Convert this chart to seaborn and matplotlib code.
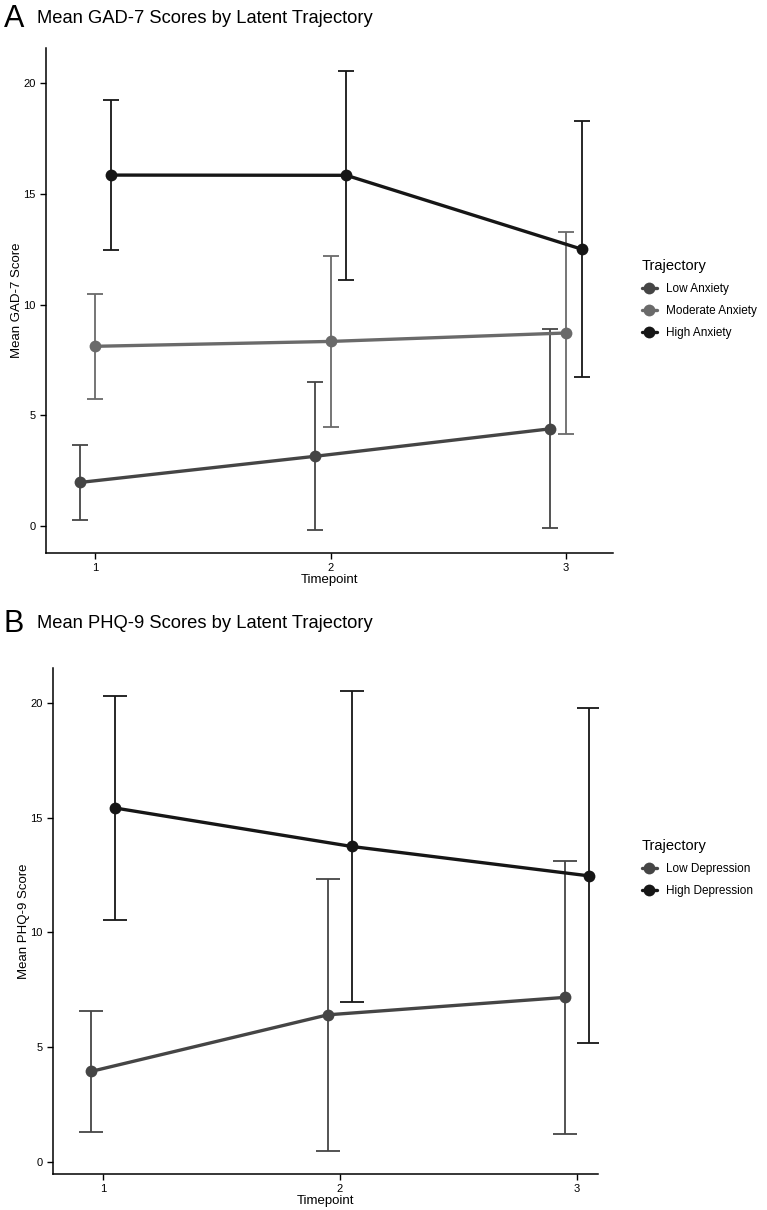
import numpy as np
import pandas as pd
import matplotlib
matplotlib.use("Agg")
import matplotlib.pyplot as plt
from matplotlib.lines import Line2D
import seaborn as sns

# Datos (media y desviacion estandar por trayectoria)
timepoints = [1, 2, 3]

gad_groups = ["Low Anxiety", "Moderate Anxiety", "High Anxiety"]
gad_low_mean = [1.98, 3.16, 4.40]
gad_low_sd = [1.70, 3.33, 4.49]
gad_mod_mean = [8.12, 8.34, 8.72]
gad_mod_sd = [2.36, 3.86, 4.56]
gad_high_mean = [15.84, 15.83, 12.50]
gad_high_sd = [3.39, 4.71, 5.78]

phq_groups = ["Low Depression", "High Depression"]
phq_low_mean = [3.94, 6.41, 7.17]
phq_low_sd = [2.65, 5.93, 5.96]
phq_high_mean = [15.43, 13.75, 12.47]
phq_high_sd = [4.87, 6.77, 7.31]

gad_colors = ["#454545", "#6a6a6a", "#161616"]
phq_colors = ["#454545", "#161616"]


def armar_df(grupos, medias, sds):
    filas = []
    n = len(grupos)
    for i, (g, m, s) in enumerate(zip(grupos, medias, sds)):
        offset = (i - (n - 1) / 2) * 0.2 / n  # position dodge width 0.2
        for t, mv, sv in zip(timepoints, m, s):
            filas.append({"timepoint": t, "x": t + offset, "trajectory": g,
                          "mean": mv, "sd": sv})
    return pd.DataFrame(filas)


def dibujar_panel(ax, df, grupos, colores, ylabel, capsize):
    pal = dict(zip(grupos, colores))
    for g in grupos:
        sub = df[df["trajectory"] == g]
        ax.errorbar(sub["x"], sub["mean"], yerr=sub["sd"], fmt="none",
                    ecolor=pal[g], elinewidth=1.3, capsize=capsize, capthick=1.3,
                    zorder=2)
    sns.lineplot(data=df, x="x", y="mean", hue="trajectory", hue_order=grupos,
                 palette=pal, linewidth=2.4, marker="o", markersize=8.5,
                 markeredgewidth=0, legend=False, ax=ax, zorder=3)
    ax.set_xticks(timepoints)
    ax.set_xticklabels([str(t) for t in timepoints])
    ax.set_yticks([0, 5, 10, 15, 20])
    ax.set_xlabel("Timepoint", fontsize=9.5, labelpad=0.5, color="black")
    ax.set_ylabel(ylabel, fontsize=9.5, labelpad=0, color="black")
    ax.tick_params(axis="both", labelsize=8, length=4, width=1,
                   colors="black", labelcolor="black")
    for s in ["left", "bottom"]:
        ax.spines[s].set_linewidth(1.1)
        ax.spines[s].set_color("black")
    sns.despine(ax=ax)


def main():
    sns.set_theme(style="ticks")
    plt.rcParams["font.family"] = ["Liberation Sans", "DejaVu Sans"]
    plt.rcParams["text.color"] = "black"
    plt.rcParams["axes.labelcolor"] = "black"

    fig = plt.figure(figsize=(7.67, 12.10), dpi=100)

    df_gad = armar_df(gad_groups, [gad_low_mean, gad_mod_mean, gad_high_mean],
                      [gad_low_sd, gad_mod_sd, gad_high_sd])
    df_phq = armar_df(phq_groups, [phq_low_mean, phq_high_mean],
                      [phq_low_sd, phq_high_sd])

    # Panel A
    ax1 = fig.add_axes([46 / 767, 1 - 553 / 1210, (613 - 46) / 767, (553 - 48) / 1210])
    dibujar_panel(ax1, df_gad, gad_groups, gad_colors, "Mean GAD-7 Score", 5.6)
    ax1.set_xlim(0.79, 3.20)
    ax1.set_ylim(-1.20, 21.57)

    # Panel B
    ax2 = fig.add_axes([53 / 767, 1 - 1174 / 1210, (598 - 53) / 767, (1174 - 668) / 1210])
    dibujar_panel(ax2, df_phq, phq_groups, phq_colors, "Mean PHQ-9 Score", 8.5)
    ax2.set_xlim(0.79, 3.09)
    ax2.set_ylim(-0.53, 21.53)

    # Titulos y letras de panel
    fig.text(4 / 767, 1 - 27 / 1210, "A", fontsize=22, ha="left", va="baseline")
    fig.text(37 / 767, 1 - 23 / 1210, "Mean GAD-7 Scores by Latent Trajectory",
             fontsize=13.2, ha="left", va="baseline")
    fig.text(4 / 767, 1 - 632 / 1210, "B", fontsize=22, ha="left", va="baseline")
    fig.text(37 / 767, 1 - 628 / 1210, "Mean PHQ-9 Scores by Latent Trajectory",
             fontsize=13.2, ha="left", va="baseline")

    # Leyendas
    h1 = [Line2D([0], [0], color=c, lw=2.4, marker="o", markersize=8.5,
                 markeredgewidth=0) for c in gad_colors]
    fig.legend(h1, gad_groups, title="Trajectory", loc="upper left",
               bbox_to_anchor=(631 / 767, 1 - 248 / 1210), frameon=False,
               fontsize=8.5, title_fontsize=10.5, handlelength=1.3,
               handletextpad=0.75, labelspacing=0.85, alignment="left")
    h2 = [Line2D([0], [0], color=c, lw=2.4, marker="o", markersize=8.5,
                 markeredgewidth=0) for c in phq_colors]
    fig.legend(h2, phq_groups, title="Trajectory", loc="upper left",
               bbox_to_anchor=(631 / 767, 1 - 828 / 1210), frameon=False,
               fontsize=8.5, title_fontsize=10.5, handlelength=1.3,
               handletextpad=0.75, labelspacing=0.85, alignment="left")

    fig.savefig("out.png", dpi=100, facecolor="white")
    plt.close(fig)


if __name__ == "__main__":
    main()
